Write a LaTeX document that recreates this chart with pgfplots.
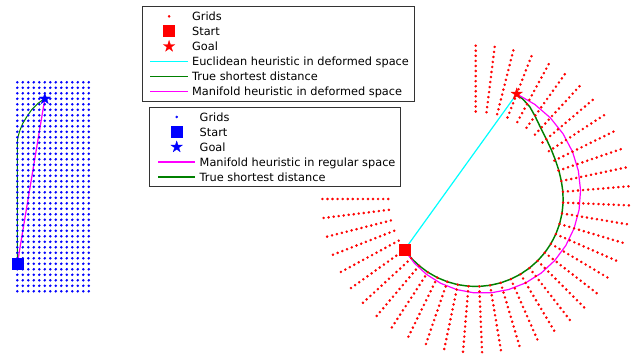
\documentclass[border=0pt]{standalone}
\usepackage{pgfplots}
\pgfplotsset{compat=1.18}
\usepackage{pgfplotstable}
\usepackage{fontspec}
\setmainfont{DejaVu Sans}

\definecolor{pathgreen}{rgb}{0,0.5,0}
\definecolor{eucl}{rgb}{0,1,1}
\definecolor{manif}{rgb}{1,0,1}
\definecolor{dotred}{rgb}{1,0,0}
\definecolor{dotblue}{rgb}{0,0,1}

% filled five-pointed star
\pgfdeclareplotmark{fivestar}{%
  \pgfpathmoveto{\pgfpointpolar{90}{\pgfplotmarksize}}%
  \pgfpathlineto{\pgfpointpolar{126}{0.382\pgfplotmarksize}}%
  \pgfpathlineto{\pgfpointpolar{162}{\pgfplotmarksize}}%
  \pgfpathlineto{\pgfpointpolar{198}{0.382\pgfplotmarksize}}%
  \pgfpathlineto{\pgfpointpolar{234}{\pgfplotmarksize}}%
  \pgfpathlineto{\pgfpointpolar{270}{0.382\pgfplotmarksize}}%
  \pgfpathlineto{\pgfpointpolar{306}{\pgfplotmarksize}}%
  \pgfpathlineto{\pgfpointpolar{342}{0.382\pgfplotmarksize}}%
  \pgfpathlineto{\pgfpointpolar{18}{\pgfplotmarksize}}%
  \pgfpathlineto{\pgfpointpolar{54}{0.382\pgfplotmarksize}}%
  \pgfpathclose
  \pgfusepathqfillstroke}

\pgfplotsset{
  griddot/.style={only marks, mark=*, mark size=0.85pt,
    mark options={line width=0.2pt}, color=#1},
  startmark/.style={only marks, mark=square*, mark size=4.1pt, color=#1},
  goalmark/.style={only marks, mark=fivestar, mark size=4.5pt,
    mark options={line width=0.2pt}, color=#1},
  % legend sample: a short line of the given colour
  lineimg/.style={legend image code/.code={
      \path[draw=none, fill=none] (-2.5pt,-3.1pt) rectangle (28pt,3.1pt);
      \draw[##1, draw=#1, line width=1.05pt, solid] (0pt,0pt) -- (28pt,0pt);}},
  markimg/.style={legend image code/.code={
      \path[draw=none, fill=none] (-2.5pt,-3.1pt) rectangle (28pt,3.1pt);
      \draw[##1, overlay] plot coordinates {(14pt,0pt)};}},
  boxlegend/.style={legend cell align=left,
    legend style={draw=black!80, line width=0.6pt, fill=white,
      inner xsep=3.75pt, inner ysep=4.3pt, row sep=5.05pt,
      column sep=2.75pt, font=\fontsize{8.5}{10}\selectfont,
      nodes={inner sep=0pt, text height=6.2pt, text depth=0pt}}},
}

% rows of the regular grid
\pgfplotstableread{
col row
0 0
0 1
0 2
0 3
0 4
0 5
0 6
0 7
0 8
0 9
0 10
0 11
0 12
0 13
0 14
0 15
0 16
0 17
0 18
0 19
0 20
0 21
0 22
0 23
0 24
0 25
0 26
0 27
0 28
0 29
0 30
0 31
0 32
0 33
0 34
0 35
0 36
0 37
0 38
}\rowtab

% ray angles (degrees) of the deformed grid, one per grid row
\pgfplotstableread{
row theta
0 180.00
1 187.11
2 194.21
3 201.32
4 208.42
5 215.53
6 222.63
7 229.74
8 236.84
9 243.95
10 251.05
11 258.16
12 265.26
13 272.37
14 279.47
15 286.58
16 293.68
17 300.79
18 307.89
19 315.00
20 322.11
21 329.21
22 336.32
23 343.42
24 350.53
25 357.63
26 364.74
27 371.84
28 378.95
29 386.05
30 393.16
31 400.26
32 407.37
33 414.47
34 421.58
35 428.68
36 435.79
37 442.89
38 450.00
}\raytab

\begin{document}
\begin{tikzpicture}

% ---------------- regular space ----------------
\begin{axis}[
  at={(12.975pt,47.025pt)}, anchor=south west,
  scale only axis, width=53.625pt, height=156.75pt,
  xmin=0, xmax=13, ymin=0, ymax=38,
  hide axis, clip=false, boxlegend,
  legend style={at={(1.84615,0.88325)}, anchor=north west},
]
\pgfplotsinvokeforeach{0,1,2,3,4,5,6,7,8,9,10,11,12,13}{
  \addplot[griddot=dotblue, forget plot] table[x expr=#1, y=row] {\rowtab};
}
\addplot[startmark=dotblue, forget plot] coordinates {(0,5)};
\addplot[goalmark=dotblue, forget plot] coordinates {(5,35)};
\addplot[manif, line width=0.9pt, forget plot] coordinates {(0,5) (5,35)};
\addplot[pathgreen, line width=0.75pt, forget plot] coordinates {
  (0,5) (0,27.2) (0.13,28.1) (0.49,29.3) (0.98,30.5) (1.7,31.7)
  (2.6,33.0) (3.8,34.2) (4.5,34.7) (5,35)};

\addlegendimage{griddot=dotblue, markimg}
\addlegendentry{Grids}
\addlegendimage{startmark=dotblue, markimg}
\addlegendentry{Start}
\addlegendimage{goalmark=dotblue, markimg}
\addlegendentry{Goal}
\addlegendimage{lineimg=manif}
\addlegendentry{Manifold heuristic in regular space}
\addlegendimage{lineimg=pathgreen}
\addlegendentry{True shortest distance}
\end{axis}

% ---------------- deformed space ----------------
\begin{axis}[
  at={(229.275pt,-11.25pt)}, anchor=south west,
  scale only axis, width=255pt, height=255pt,
  xmin=-170, xmax=170, ymin=-170, ymax=170,
  hide axis, clip=false,
]
\pgfplotsinvokeforeach{87.5,92.56,97.62,102.68,107.74,112.8,117.86,122.92,127.98,133.04,138.1,143.16,148.22,153.28}{
  \addplot[griddot=dotred, forget plot, data cs=polar] table[x=theta, y expr=#1] {\raytab};
}
\addplot[startmark=dotred, forget plot, data cs=polar] coordinates {(215.53,87.5)};
\addplot[goalmark=dotred, forget plot, data cs=polar] coordinates {(428.68,112.8)};
\addplot[eucl, line width=0.9pt, forget plot, data cs=polar] coordinates {
  (215.53,87.5) (428.68,112.8)};
\addplot[pathgreen, line width=1.1pt, forget plot, data cs=polar] coordinates {
  (215.53,87.5) (222.63,87.5) (229.74,87.5) (236.84,87.5) (243.95,87.5)
  (251.05,87.5) (258.16,87.5) (265.26,87.5) (272.37,87.5) (279.47,87.5)
  (286.58,87.5) (293.68,87.5) (300.79,87.5) (307.89,87.5) (315.00,87.5)
  (322.11,87.5) (329.21,87.5) (336.32,87.5) (343.42,87.5) (350.53,87.5)
  (357.63,87.5) (364.74,87.5) (371.84,87.5) (378.95,87.9) (386.05,88.7)
  (393.16,90.3) (400.26,92.6) (407.37,96.2) (414.47,102.0) (419.5,106.8)
  (424.5,110.3) (428.68,112.8)};
\addplot[manif, line width=0.9pt, forget plot, data cs=polar] coordinates {
  (215.53,87.5) (226.19,88.77) (236.85,90.03) (247.50,91.30) (258.16,92.56)
  (268.82,93.83) (279.48,95.09) (290.13,96.36) (300.79,97.62) (311.45,98.89)
  (322.11,100.15) (332.76,101.42) (343.42,102.68) (354.08,103.95)
  (364.74,105.21) (375.39,106.48) (386.05,107.74) (396.71,109.01)
  (407.37,110.27) (418.02,111.54) (428.68,112.8)};
\end{axis}

% legend of the deformed space, set on a plain axis of the same frame
\begin{axis}[
  at={(229.275pt,-11.25pt)}, anchor=south west,
  scale only axis, width=255pt, height=255pt,
  xmin=-170, xmax=170, ymin=-170, ymax=170,
  hide axis, clip=false, boxlegend,
  legend style={at={(-0.48235,1.06853)}, anchor=north west,
    inner ysep=4.6pt},
]
\addlegendimage{griddot=dotred, markimg}
\addlegendentry{Grids}
\addlegendimage{startmark=dotred, markimg}
\addlegendentry{Start}
\addlegendimage{goalmark=dotred, markimg}
\addlegendentry{Goal}
\addlegendimage{lineimg=eucl}
\addlegendentry{Euclidean heuristic in deformed space}
\addlegendimage{lineimg=pathgreen}
\addlegendentry{True shortest distance}
\addlegendimage{lineimg=manif}
\addlegendentry{Manifold heuristic in deformed space}
\end{axis}

\pgfresetboundingbox
\path[use as bounding box] (0,0) rectangle (478.5pt,265.5pt);
\end{tikzpicture}
\end{document}
